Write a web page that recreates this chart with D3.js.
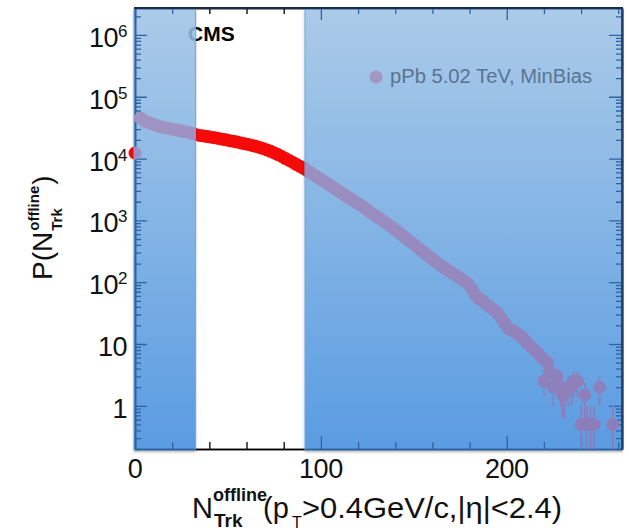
<!DOCTYPE html>
<html><head><meta charset="utf-8">
<script src="https://cdn.jsdelivr.net/npm/d3@7"></script>
<style>html,body{margin:0;padding:0;background:#fff;}svg{display:block;font-family:"Liberation Sans",Arial,Helvetica,sans-serif;}</style>
</head><body><svg id="c" width="629" height="532"></svg>
<script>
// ---- data ----
const mainN = [0,3,5,7,9,11,13,15,17,19,21,23,25,27,29,31,33,35,37,39,41,43,45,47,49,51,53,55,57,59,61,63,65,67,69,71,73,75,77,79,81,83,85,87,89,91,93,95,97,99,101,103,105,107,109,111,113,115,117,119,121,123,125,127,129,131,133,135,137,139,141,143,145,147,149,151,153,155,157,159,161,163,165,167,169,171,173,175,177,179,181,183,185,187,189,191,193,195,197,199,201,203,205,207,209,211,213,215,217];
const mainP = [12300,45000,40700,38600,36700,34800,33100,32200,31300,30400,29600,28800,28000,27200,26600,25400,24300,23700,23200,22700,22200,21700,21100,20600,20100,19500,19000,18500,17900,17400,16900,16300,15800,15100,14500,13800,13100,12300,11600,10800,10000,9310,8630,8000,7430,6890,6280,5730,5250,4810,4410,4040,3700,3370,3060,2800,2560,2340,2140,1950,1790,1630,1480,1320,1210,1100,995,906,822,746,670,600,537,481,431,385,345,310,279,250,224,201,182,166,151,138,126,115,105,95.5,79.4,63.1,53.7,50.1,43.7,39.8,35.5,31.6,26.3,21.4,17.8,16.6,15.1,13.8,12.0,10.5,9.1,7.9,6.9];
const tailN   = [219,220,222,223,225,227,229,230,231,233,235,236,238,240,242,243,245,247,250,257];
const tailP   = [6.0,2.5,5.0,3.5,2.0,3.0,2.0,1.5,1.5,2.0,2.0,2.5,2.5,0.5,1.5,0.5,0.5,0.5,2.0,0.5];
const tailErr = [1.7,1.1,1.6,1.3,1.0,1.2,1.0,0.87,0.87,1.0,1.0,1.1,1.1,0.5,0.87,0.5,0.5,0.5,1.0,0.5];
const bandStart = [0, 92];
const bandEnd   = [32.5, 262];
const xMajor = [0, 100, 200];
const xLabels = ["0", "100", "200"];
const xMinorStep = 20;
const yMajor = [1, 10, 100, 1e3, 1e4, 1e5, 1e6];
const yLabels = ["1", "10", "10^2", "10^3", "10^4", "10^5", "10^6"];
const legendLabel = "pPb 5.02 TeV, MinBias";
const expLabel = "CMS";

// ---- layout ----
const svg = d3.select("#c");
const L = 135, R = 622, T = 8, B = 449;
const x = d3.scaleLinear().domain([0, 262]).range([L, R]);
const y = d3.scaleLog().domain([0.2, 2.73e6]).range([B, T]);
const rMark = 6.5;

const defs = svg.append("defs");
const gBlue = defs.append("linearGradient").attr("id", "gBlue").attr("gradientUnits", "userSpaceOnUse")
  .attr("x1", 0).attr("x2", 0).attr("y1", T).attr("y2", B);
gBlue.append("stop").attr("offset", 0).attr("stop-color", "#abcbe8");
gBlue.append("stop").attr("offset", 1).attr("stop-color", "#5a9ce2");
const gPur = defs.append("linearGradient").attr("id", "gPur").attr("gradientUnits", "userSpaceOnUse")
  .attr("x1", 0).attr("x2", 0).attr("y1", T).attr("y2", B);
gPur.append("stop").attr("offset", 0).attr("stop-color", "#a69bc5");
gPur.append("stop").attr("offset", 1).attr("stop-color", "#897cba");
const sh = defs.append("filter").attr("id", "sh").attr("x", "-5%").attr("y", "-5%").attr("width", "110%").attr("height", "110%");
sh.append("feDropShadow").attr("dx", 0).attr("dy", 1.5).attr("stdDeviation", 1.2).attr("flood-color", "#000").attr("flood-opacity", 0.3);
const clip = defs.append("clipPath").attr("id", "bandClip");
bandStart.forEach((s, i) => {
  clip.append("rect").attr("x", x(s) - 1).attr("y", T + 1).attr("width", x(bandEnd[i]) - x(s) + 1).attr("height", B - T);
});

const yMinor = [];
for (let e = -1; e <= 6; e++) for (let m = 2; m <= 9; m++) { const v = m * Math.pow(10, e); if (v >= 0.2 && v <= 2.73e6) yMinor.push(v); }
const xMinor = d3.range(0, 262, xMinorStep).filter(v => xMajor.indexOf(v) < 0);

function drawAxes(g, color) {
  g.attr("color", color);
  const st = sel => { sel.selectAll("path.domain").attr("stroke-width", 1.6); sel.selectAll(".tick line").attr("stroke-width", 1.3); };
  g.append("g").attr("transform", `translate(0,${B})`).call(d3.axisBottom(x).tickValues(xMajor).tickSize(-13).tickSizeOuter(0).tickFormat("")).call(st);
  g.append("g").attr("transform", `translate(0,${B})`).call(d3.axisBottom(x).tickValues(xMinor).tickSize(-7).tickSizeOuter(0).tickFormat("")).call(st);
  g.append("g").attr("transform", `translate(0,${T})`).call(d3.axisTop(x).tickValues(xMajor).tickSize(-12).tickSizeOuter(0).tickFormat("")).call(st);
  g.append("g").attr("transform", `translate(0,${T})`).call(d3.axisTop(x).tickValues(xMinor).tickSize(-6).tickSizeOuter(0).tickFormat("")).call(st);
  g.append("g").attr("transform", `translate(${L},0)`).call(d3.axisLeft(y).tickValues(yMajor).tickSize(-12).tickSizeOuter(0).tickFormat("")).call(st);
  g.append("g").attr("transform", `translate(${L},0)`).call(d3.axisLeft(y).tickValues(yMinor).tickSize(-6).tickSizeOuter(0).tickFormat("")).call(st);
  g.append("g").attr("transform", `translate(${R},0)`).call(d3.axisRight(y).tickValues(yMajor).tickSize(-13).tickSizeOuter(0).tickFormat("")).call(st);
  g.append("g").attr("transform", `translate(${R},0)`).call(d3.axisRight(y).tickValues(yMinor).tickSize(-6).tickSizeOuter(0).tickFormat("")).call(st);
}

const pts = mainN.map((n, i) => ({ n, p: mainP[i], e: 0 })).concat(tailN.map((n, i) => ({ n, p: tailP[i], e: tailErr[i] })));
const yc = v => v <= 0.2 ? B : Math.max(T, y(v));

function drawData(g, fill) {
  g.selectAll("line.err").data(pts.filter(d => d.e > 0)).join("line").attr("class", "err")
    .attr("x1", d => x(d.n)).attr("x2", d => x(d.n))
    .attr("y1", d => yc(d.p + d.e)).attr("y2", d => yc(d.p - d.e))
    .attr("stroke", fill).attr("stroke-width", 1.8);
  g.selectAll("circle.m").data(pts).join("circle").attr("class", "m")
    .attr("cx", d => x(d.n)).attr("cy", d => y(d.p)).attr("r", rMark).attr("fill", fill);
}

// ---- base layer ----
const base = svg.append("g");
drawAxes(base.append("g"), "#000");
drawData(base.append("g"), "#f50a0a");
base.append("text").attr("x", 188).attr("y", 41).attr("font-size", 21).attr("font-weight", "bold").attr("fill", "#000").text(expLabel);

// ---- blue bands ----
const bands = svg.append("g").attr("filter", "url(#sh)");
bandStart.forEach((s, i) => {
  bands.append("rect").attr("x", x(s) - 1).attr("y", T + 1).attr("width", x(bandEnd[i]) - x(s) + 1).attr("height", B - T)
    .attr("fill", "url(#gBlue)").attr("stroke", "#6fa9e2").attr("stroke-width", 1);
});

// ---- content seen through the bands ----
const over = svg.append("g").attr("clip-path", "url(#bandClip)");
drawAxes(over.append("g"), "#2e63a0");
drawData(over.append("g"), "url(#gPur)");
over.append("text").attr("x", 188).attr("y", 41).attr("font-size", 21).attr("font-weight", "bold").attr("fill", "#7fa3cc").text(expLabel);
over.append("circle").attr("cx", 376).attr("cy", 77).attr("r", rMark).attr("fill", "#a197c2");
over.append("text").attr("x", 390).attr("y", 83).attr("font-size", 20).attr("fill", "#587493")
  .attr("textLength", 202).attr("lengthAdjust", "spacingAndGlyphs").text(legendLabel);

// frame top/right
svg.append("line").attr("x1", L - 1).attr("x2", R + 1).attr("y1", T).attr("y2", T).attr("stroke", "#1b2d48").attr("stroke-width", 1.8);
svg.append("line").attr("x1", R).attr("x2", R).attr("y1", T).attr("y2", B + 1).attr("stroke", "#24406a").attr("stroke-width", 1.8);

// ---- tick labels ----
const lab = svg.append("g").attr("fill", "#111");
yMajor.forEach((v, i) => {
  const parts = yLabels[i].split("^");
  const t = lab.append("text").attr("text-anchor", "end").attr("x", 127).attr("y", y(v) + 12).attr("font-size", 27).attr("letter-spacing", -0.5);
  t.append("tspan").text(parts[0]);
  if (parts[1]) t.append("tspan").attr("font-size", 17).attr("dy", -10).text(parts[1]);
});
xMajor.forEach((v, i) => {
  lab.append("text").attr("text-anchor", "middle").attr("x", x(v)).attr("y", 478).attr("font-size", 27).attr("letter-spacing", -0.5).text(xLabels[i]);
});

// ---- x title ----
const xt = svg.append("g").attr("fill", "#111");
const tN = xt.append("text").attr("x", 192).attr("y", 518).attr("font-size", 29).text("N");
const wN = tN.node().getComputedTextLength();
xt.append("text").attr("x", 192 + wN).attr("y", 501).attr("font-size", 18).attr("font-weight", "bold").attr("textLength", 54).attr("lengthAdjust", "spacingAndGlyphs").text("offline");
xt.append("text").attr("x", 192 + wN + 1).attr("y", 527).attr("font-size", 19).attr("font-weight", "bold").text("Trk");
xt.append("text").attr("x", 263).attr("y", 518).attr("font-size", 29).text("(p");
xt.append("text").attr("x", 292).attr("y", 528).attr("font-size", 16).text("T");
xt.append("text").attr("x", 302).attr("y", 518).attr("font-size", 29).attr("textLength", 260).attr("lengthAdjust", "spacingAndGlyphs").text(">0.4GeV/c,|η|<2.4)");

// ---- y title ----
const yt = svg.append("g").attr("transform", "translate(52,280) rotate(-90)").attr("fill", "#111");
const tP = yt.append("text").attr("x", 0).attr("y", 0).attr("font-size", 28).text("P(N");
const wP = tP.node().getComputedTextLength();
const tOff = yt.append("text").attr("x", wP + 1).attr("y", -13).attr("font-size", 15).attr("font-weight", "bold").text("offline");
yt.append("text").attr("x", wP + 1).attr("y", 10).attr("font-size", 15).attr("font-weight", "bold").text("Trk");
const wO = tOff.node().getComputedTextLength();
yt.append("text").attr("x", wP + wO + 2).attr("y", 0).attr("font-size", 28).text(")");
</script></body></html>
